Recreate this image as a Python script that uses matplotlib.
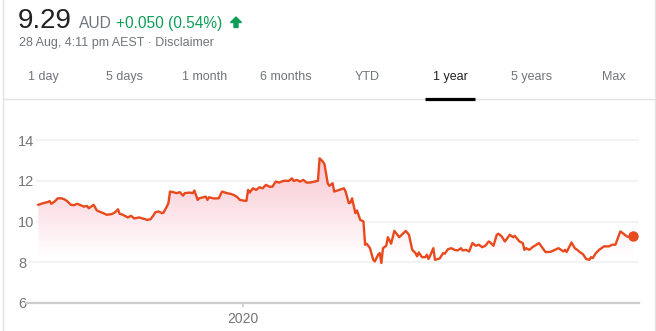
import numpy as np
import matplotlib
matplotlib.use('Agg')
import matplotlib.pyplot as plt
import matplotlib.dates as mdates
from matplotlib.patches import PathPatch, Polygon

# price history, one year, days counted from 28 Aug 2019
days = [0, 3, 6, 7, 8, 10, 12, 14, 16, 18, 20, 22, 24, 26, 28, 30, 31, 34, 36, 38,
        40, 42, 45, 47, 49, 50, 52, 55, 57, 59, 62, 64, 67, 69, 71, 72, 74, 76, 77, 79,
        80, 81, 83, 85, 87, 89, 90, 93, 95, 96, 98, 99, 103, 104, 105, 108, 111, 113, 116, 118,
        120, 122, 124, 126, 128, 129, 130, 132, 134, 136, 138, 140, 142, 144, 146, 148, 151, 154, 156, 157,
        159, 161, 163, 165, 167, 170, 172, 173, 175, 176, 178, 179, 181, 182, 185, 188, 189, 191, 192, 193,
        195, 196, 198, 200, 201, 202, 204, 206, 207, 209, 210, 211, 212, 214, 215, 217, 219, 222, 226, 228,
        230, 232, 233, 234, 236, 238, 239, 240, 241, 243, 244, 246, 247, 249, 250, 252, 254, 256, 258, 260,
        261, 263, 265, 267, 269, 271, 273, 275, 277, 278, 280, 282, 283, 285, 287, 290, 292, 293, 296, 298,
        299, 300, 302, 304, 308, 312, 315, 317, 320, 323, 324, 325, 328, 330, 332, 333, 335, 337, 339, 340,
        341, 343, 345, 348, 351, 353, 355, 358, 360, 362, 364, 366]
prices = [10.82, 10.90, 10.96, 11.00, 10.87, 10.98, 11.14, 11.14, 11.09, 10.98, 10.82, 10.80, 10.87, 10.80, 10.73, 10.76, 10.65, 10.82, 10.54, 10.47,
          10.41, 10.33, 10.36, 10.44, 10.60, 10.38, 10.33, 10.20, 10.28, 10.15, 10.20, 10.15, 10.08, 10.11, 10.33, 10.46, 10.49, 10.41, 10.44, 10.73,
          10.90, 11.47, 11.44, 11.39, 11.44, 11.27, 11.39, 11.42, 11.39, 11.52, 11.06, 11.14, 11.22, 11.06, 11.19, 11.13, 11.14, 11.47, 11.39, 11.36,
          11.31, 11.22, 11.06, 11.03, 11.01, 11.55, 11.42, 11.63, 11.55, 11.68, 11.63, 11.80, 11.71, 11.71, 11.96, 11.91, 12.00, 11.99, 12.12, 11.99,
          12.04, 11.96, 12.04, 11.91, 11.91, 11.96, 12.00, 13.10, 12.94, 12.82, 11.88, 11.75, 11.88, 11.47, 11.55, 11.63, 11.47, 10.90, 10.93, 11.14,
          10.41, 10.54, 10.08, 10.00, 8.86, 8.91, 8.69, 8.12, 8.04, 8.37, 8.45, 7.96, 8.69, 8.81, 9.23, 8.91, 9.54, 9.23, 9.54, 9.35,
          8.61, 8.45, 8.29, 8.48, 8.25, 8.25, 8.37, 8.16, 8.32, 8.69, 8.12, 8.16, 8.20, 8.45, 8.42, 8.64, 8.69, 8.61, 8.58, 8.69,
          8.58, 8.61, 8.53, 8.94, 8.81, 8.86, 8.74, 8.81, 9.02, 8.97, 8.81, 9.35, 9.40, 9.27, 9.02, 9.35, 9.23, 9.30, 9.02, 8.94,
          8.61, 8.69, 8.61, 8.74, 8.94, 8.50, 8.51, 8.58, 8.69, 8.53, 8.61, 8.50, 8.97, 8.69, 8.58, 8.50, 8.40, 8.16, 8.12, 8.25,
          8.20, 8.45, 8.61, 8.78, 8.78, 8.86, 8.86, 9.51, 9.40, 9.27, 9.23, 9.29]
yticks = [6, 8, 10, 12, 14]
tabs = ['1 day', '5 days', '1 month', '6 months', 'YTD', '1 year', '5 years', 'Max']
tab_x = [43, 124, 205, 286, 367, 450, 532, 614]

W, H = 656, 331
plt.rcParams['font.family'] = ['Liberation Sans', 'DejaVu Sans']
fig = plt.figure(figsize=(W / 100, H / 100), dpi=100)

def fx(x):
    return x / W

def fy(y):
    return 1 - y / H

# header
grey = '#70757a'
green = '#0f9d58'
fig.text(fx(18), fy(28), '9.29', fontsize=20, color='#222222', va='baseline')
fig.text(fx(79), fy(28), 'AUD', fontsize=11.2, color=grey, va='baseline')
fig.text(fx(116), fy(28), '+0.050 (0.54%)', fontsize=11.2, color=green, va='baseline')
# up arrow icon
arrow = [(236, 17), (241.5, 22.5), (238, 22.5), (238, 27.5), (234, 27.5), (234, 22.5), (230.5, 22.5)]
fig.add_artist(Polygon([(fx(a), fy(b)) for a, b in arrow], closed=True, color=green,
                       transform=fig.transFigure))
fig.text(fx(19), fy(46), '28 Aug, 4:11 pm AEST \u00b7 Disclaimer', fontsize=9, color=grey, va='baseline')

for t, x in zip(tabs, tab_x):
    c = '#222222' if t == '1 year' else grey
    fig.text(fx(x), fy(80), t, fontsize=9, color=c, ha='center', va='baseline')

fig.add_artist(plt.Line2D([fx(3), fx(656)], [fy(99), fy(99)], color='#e3e3e3', lw=1))
fig.add_artist(plt.Line2D([fx(425), fx(475)], [fy(99), fy(99)], color='black', lw=2.3,
                          solid_capstyle='butt'))
fig.add_artist(plt.Line2D([fx(2.5), fx(2.5)], [0, 1], color='#e3e3e3', lw=1))
fig.add_artist(plt.Line2D([fx(655), fx(655)], [0, 1], color='#e3e3e3', lw=1))

# chart area
ax_l, ax_r, ax_b, ax_t = 26, 639, 303, 120
ax = fig.add_axes([fx(ax_l), fy(ax_b), (ax_r - ax_l) / W, (ax_b - ax_t) / H])
ppu = (303 - 140) / 8.0

start = np.datetime64('2019-08-28')
dates = start + np.array(days).astype('timedelta64[D]')
line_color = '#e8491d'
ax.plot(dates, prices, color=line_color, lw=1.7, zorder=3, solid_joinstyle='round')
ax.plot(dates[-1:], prices[-1:], 'o', color=line_color, ms=6.5, zorder=4)

s0 = mdates.date2num(start)

# gradient fill under the line (opaque, hides the grid)
fill = ax.fill_between(dates, prices, 8.2, color='none', lw=0)
patch = PathPatch(fill.get_paths()[0], transform=ax.transData, facecolor='none', edgecolor='none')
ax.add_patch(patch)
a = np.linspace(0.0, 0.36, 100)[:, None]
pink = np.array([238, 90, 122]) / 255
grad = np.ones((100, 1, 4))
grad[:, 0, :3] = 1 - a * (1 - pink)
im = ax.imshow(grad, extent=[s0, s0 + 366, 8.2, 13.2], origin='lower', aspect='auto', zorder=1)
im.set_clip_path(patch)
ax.set_xlim(s0 - 7.6, s0 + 369.5)
ax.set_ylim(6, 6 + (ax_b - ax_t) / ppu)

for s in ['top', 'right', 'left']:
    ax.spines[s].set_visible(False)
ax.spines['bottom'].set_color('#cccccc')
ax.spines['bottom'].set_linewidth(1.6)
ax.spines['bottom'].set_zorder(5)

ax.set_yticks(yticks)
ax.yaxis.grid(True, color='#f3f3f3', lw=1.5)
ax.set_axisbelow(True)
ax.tick_params(axis='y', length=0, pad=5.8, labelsize=10.5, labelcolor='#757575')
for lab in ax.get_yticklabels():
    lab.set_ha('left')
    lab.set_bbox(dict(facecolor='white', edgecolor='none', pad=1))

ax.set_xticks([mdates.date2num(np.datetime64('2020-01-01'))])
ax.set_xticklabels(['2020'])
ax.tick_params(axis='x', length=3, width=1.2, color='#cccccc', pad=3.5, labelsize=10,
               labelcolor='#757575')
ax.patch.set_alpha(0)

fig.savefig('out.png', dpi=100)
